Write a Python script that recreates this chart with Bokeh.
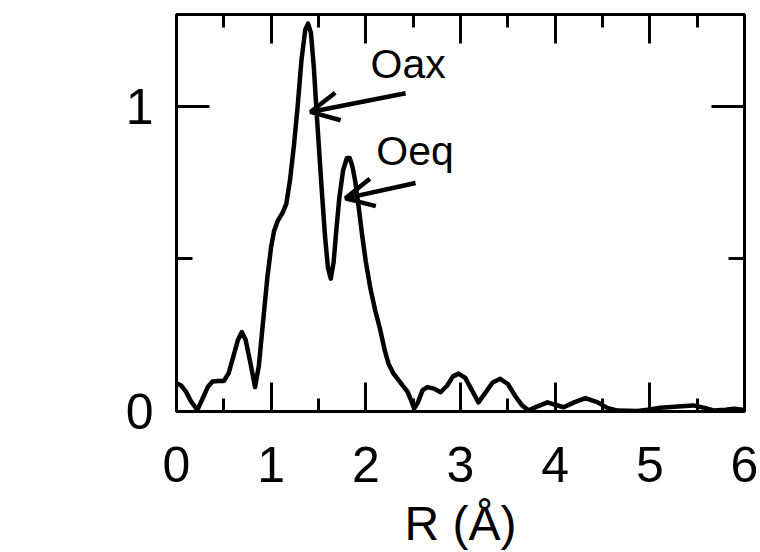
from bokeh.plotting import figure
from bokeh.models import LinearAxis, FixedTicker, Arrow, OpenHead, Range1d, CustomLabelingPolicy
from bokeh.core.properties import value
from bokeh.embed import file_html
from bokeh.resources import INLINE

# ---- data ----
r_values = [0.00, 0.05, 0.10, 0.15, 0.22, 0.28, 0.33, 0.38, 0.44, 0.50,
            0.55, 0.60, 0.65, 0.69, 0.73, 0.78, 0.83, 0.87, 0.91, 0.96,
            1.00, 1.03, 1.07, 1.12, 1.16, 1.20, 1.24, 1.28, 1.32, 1.36,
            1.39, 1.42, 1.45, 1.48, 1.51, 1.54, 1.57, 1.60, 1.63, 1.66,
            1.69, 1.72, 1.76, 1.80, 1.83, 1.86, 1.89, 1.92, 1.96, 2.00,
            2.05, 2.10, 2.15, 2.20, 2.24, 2.29, 2.34, 2.39, 2.44, 2.48,
            2.51, 2.55, 2.60, 2.65, 2.72, 2.79, 2.86, 2.92, 2.98, 3.05,
            3.12, 3.19, 3.26, 3.34, 3.42, 3.50, 3.58, 3.65, 3.72, 3.80,
            3.92, 4.00, 4.09, 4.20, 4.32, 4.45, 4.55, 4.66, 4.87, 5.00,
            5.11, 5.30, 5.46, 5.58, 5.68, 5.80, 5.89, 6.00]
ft_magnitude = [0.092, 0.085, 0.065, 0.035, 0.005, 0.045, 0.080, 0.098, 0.100, 0.100,
                0.125, 0.180, 0.235, 0.260, 0.235, 0.160, 0.080, 0.150, 0.280, 0.440,
                0.540, 0.590, 0.625, 0.650, 0.680, 0.760, 0.870, 1.000, 1.150, 1.250,
                1.270, 1.240, 1.130, 0.980, 0.840, 0.700, 0.570, 0.470, 0.435, 0.490,
                0.600, 0.700, 0.790, 0.830, 0.830, 0.800, 0.750, 0.680, 0.580, 0.490,
                0.400, 0.330, 0.270, 0.200, 0.156, 0.125, 0.105, 0.085, 0.065, 0.035,
                0.010, 0.030, 0.070, 0.080, 0.075, 0.063, 0.085, 0.115, 0.124, 0.110,
                0.070, 0.030, 0.060, 0.095, 0.107, 0.090, 0.050, 0.020, 0.004, 0.015,
                0.030, 0.022, 0.014, 0.030, 0.044, 0.030, 0.012, 0.003, 0.002, 0.007,
                0.012, 0.016, 0.020, 0.012, 0.003, 0.006, 0.009, 0.005]

x_ticks = [0, 1, 2, 3, 4, 5, 6]
x_minor_ticks = [0.5, 1.5, 2.5, 3.5, 4.5, 5.5]
y_ticks = [0, 1]
y_minor_ticks = [0.5]

ann_text = ["Oax", "Oeq"]
ann_x = [2.05, 2.11]
ann_y = [1.138, 0.853]
arrow_tail_x = [2.42, 2.525]
arrow_tail_y = [1.042, 0.748]
arrow_tip_x = [1.415, 1.785]
arrow_tip_y = [0.981, 0.698]

x_label = "R (Å)"
FONT = "Liberation Sans"

p = figure(width=760, height=552, x_range=Range1d(0, 6), y_range=Range1d(0, 1.30),
           output_backend="svg", toolbar_location=None,
           min_border_left=176, min_border_right=16, min_border_top=14, min_border_bottom=141)
p.grid.visible = False
p.outline_line_color = "black"
p.outline_line_width = 3
p.background_fill_color = "white"
p.border_fill_color = "white"

hide_all = CustomLabelingPolicy(code="for (const i of indices) indices.unset(i); return indices")

def style_axis(ax, tin, mtin, show_labels, standoff=0):
    ax.major_tick_in = tin
    ax.major_tick_out = 0
    ax.minor_tick_in = mtin
    ax.minor_tick_out = 0
    ax.major_tick_line_width = 3
    ax.minor_tick_line_width = 3
    ax.axis_line_width = 3
    ax.axis_line_color = "black"
    ax.major_tick_line_color = "black"
    ax.minor_tick_line_color = "black"
    ax.major_label_text_font = FONT
    ax.major_label_text_color = "black"
    if show_labels:
        ax.major_label_text_font_size = "50px"
        ax.major_label_standoff = standoff
    else:
        ax.major_label_text_font_size = "0px"
        ax.major_label_standoff = 0
        ax.major_label_policy = hide_all

xa = p.xaxis[0]
xa.ticker = FixedTicker(ticks=x_ticks, minor_ticks=x_minor_ticks)
style_axis(xa, 29, 13, True, 35)
xa.axis_label = x_label
xa.axis_label_text_font = FONT
xa.axis_label_text_font_size = "48px"
xa.axis_label_text_font_style = "normal"
xa.axis_label_text_color = "black"
xa.axis_label_standoff = 12

ya = p.yaxis[0]
ya.ticker = FixedTicker(ticks=y_ticks, minor_ticks=y_minor_ticks)
style_axis(ya, 33, 16, True, 23)

top = LinearAxis(ticker=FixedTicker(ticks=x_ticks, minor_ticks=x_minor_ticks))
style_axis(top, 29, 13, False)
p.add_layout(top, "above")

right = LinearAxis(ticker=FixedTicker(ticks=y_ticks, minor_ticks=y_minor_ticks))
style_axis(right, 33, 16, False)
p.add_layout(right, "right")

p.line(r_values, ft_magnitude, line_color="black", line_width=4.5, line_join="round")

for tx, ty, hx, hy in zip(arrow_tail_x, arrow_tail_y, arrow_tip_x, arrow_tip_y):
    p.add_layout(Arrow(end=OpenHead(size=28, line_width=4.5, line_color="black"),
                       x_start=tx, y_start=ty, x_end=hx, y_end=hy,
                       line_width=4.5, line_color="black"))

p.text(x=ann_x, y=ann_y, text=ann_text, text_font=value(FONT), text_font_size="41px",
       text_baseline="alphabetic", text_align="left", text_color="black")

open("out.html", "w").write(file_html(p, INLINE))
